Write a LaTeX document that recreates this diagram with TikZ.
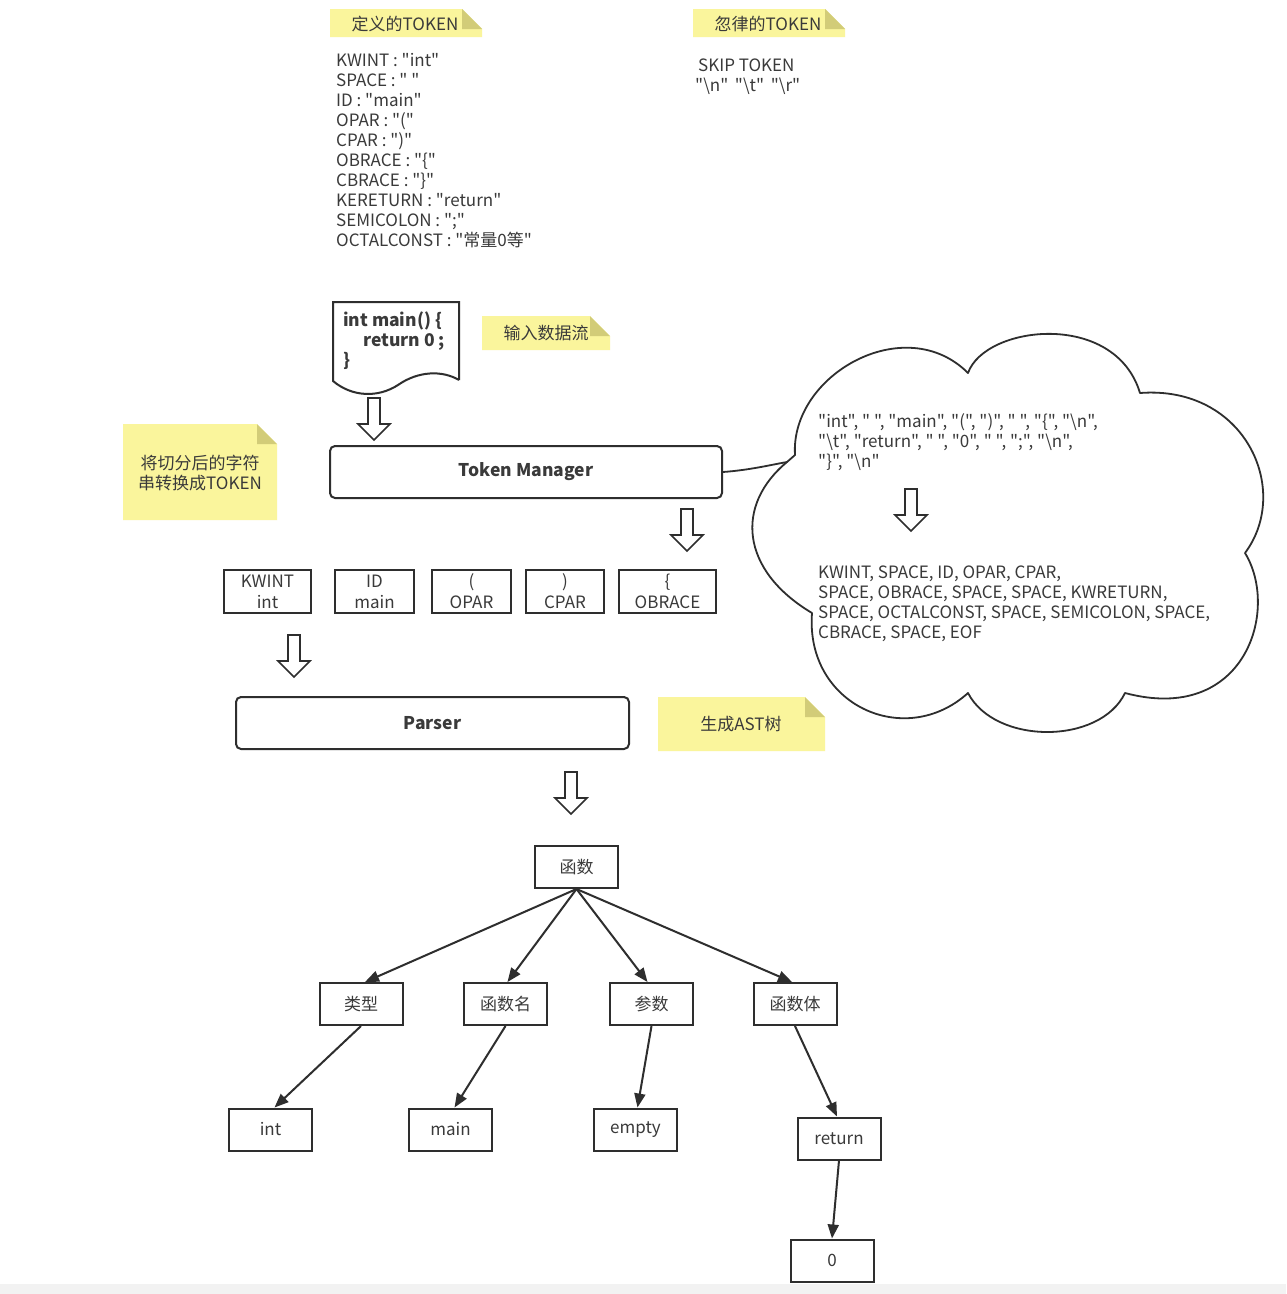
\documentclass[tikz,border=0pt]{standalone}
\usepackage{fontspec}
\setmainfont{Noto Sans CJK SC}[Ligatures=TeXOff]
\usetikzlibrary{arrows.meta}
\definecolor{ink}{HTML}{2E2E2E}
\definecolor{txt}{HTML}{3A3A3A}
\definecolor{noteY}{HTML}{FAF59C}
\definecolor{noteF}{HTML}{D2CC78}
\newcommand\stickynote[4]{%
  \fill[noteY] (#1,#2) -- (#3-20,#2) -- (#3,#2+20) -- (#3,#4) -- (#1,#4) -- cycle;
  \fill[noteF] (#3-20,#2) -- (#3-20,#2+20) -- (#3,#2+20) -- cycle;}
\tikzset{
  hollow/.pic={\draw[ink, line width=1.6pt, fill=white, line join=miter]
     (-6,0) -- (6,0) -- (6,26) -- (16,26) -- (0,42) -- (-16,26) -- (-6,26) -- cycle;},
  procbox/.style={draw=ink, line width=2pt, rounded corners=5pt, fill=white, inner sep=0pt,
     font=\fontsize{17.5}{20}\selectfont\bfseries},
  tokbox/.style={draw=ink, line width=2pt, minimum height=43pt, inner sep=0pt, align=center,
     font=\fontsize{17}{21}\selectfont},
  treebox/.style={draw=ink, line width=2pt, minimum width=83pt, minimum height=42pt, inner sep=0pt},
  treearrow/.style={ink, line width=2pt, -{Triangle[length=14pt,width=11pt]}},
  linetext/.style={anchor=base west, inner sep=0pt},
  doctext/.style={anchor=base west, inner sep=0pt, font=\fontsize{17.5}{20}\selectfont\bfseries},
  notetext/.style={inner sep=0pt, align=center},
}
\begin{document}
\begin{tikzpicture}[x=1pt, y=-1pt, font=\fontsize{17}{20}\selectfont, text=txt]
\useasboundingbox (0,0) rectangle (1286,1294);
\fill[white] (0,0) rectangle (1286,1294);
\fill[black!5] (0,1284) rectangle (1286,1294);

% ---- notes
\stickynote{330}{9}{482}{37}
\node[notetext] (n1) at (405,24) {定义的TOKEN};
\stickynote{693}{9}{845}{37}
\node[notetext] (n2) at (768,24) {忽律的TOKEN};
\stickynote{482}{316}{610}{350}
\node[notetext] (n3) at (546,333) {输入数据流};
\stickynote{123}{424}{277}{520}
\node[notetext] (n4) at (200,473) {将切分后的字符\\串转换成TOKEN};
\stickynote{658}{697}{825}{751}
\node[notetext] (n5) at (741,724) {生成AST树};

% ---- token definitions
\foreach \t [count=\i] in {
  {KWINT : "int"},
  {SPACE : " "},
  {ID : "main"},
  {OPAR : "("},
  {CPAR : ")"},
  {OBRACE : "\{"},
  {CBRACE : "\}"},
  {KERETURN : "return"},
  {SEMICOLON : ";"},
  {OCTALCONST : "常量0等"}}
  \node[linetext] (def\i) at (336,{66+20*(\i-1)}) {\t};

\node[linetext] (skip1) at (698,71) {SKIP TOKEN};
\node[linetext] (skip2) at (695,91) {"\textbackslash n"\, "\textbackslash t"\, "\textbackslash r"};

% ---- input document
\draw[ink, line width=2pt, fill=white] (459,380) -- (459,302) -- (333,302) -- (333,381)
  .. controls (352,397) and (378,398) .. (398,385)
  .. controls (418,371) and (442,370) .. (459,380);
\node[doctext] (doc1) at (343,326) {int main() \{};
\node[doctext] (doc2) at (363,346) {return 0 ;};
\node[doctext] (doc3) at (343,366) {\}};

\pic (a1) at (374,398) {hollow};

% ---- token manager
\node[procbox, minimum width=392pt, minimum height=52pt] (tm) at (526,472) {Token Manager};

% ---- cloud
\coordinate (tail) at (787,462);
\draw[ink, line width=1.8pt, fill=white, line join=round]
  (tail) -- (795,455)
  .. controls (790,375) and (905,310) .. (968,373)
  .. controls (985,325) and (1115,310) .. (1140,393)
  .. controls (1245,385) and (1292,490) .. (1245,553)
  .. controls (1280,610) and (1245,725) .. (1125,693)
  .. controls (1100,745) and (995,745) .. (968,693)
  .. controls (905,750) and (805,705) .. (812,613)
  .. controls (740,570) and (735,505) .. (tail) -- cycle;
\draw[ink, line width=1.8pt] (tm.east) .. controls (750,470) and (770,465) .. (tail);

\node[linetext] (c1) at (818,427) {"int", " ", "main", "(", ")", " ", "\{", "\textbackslash n",};
\node[linetext] (c2) at (818,447) {"\textbackslash t", "return", " ", "0", " ", ";", "\textbackslash n",};
\node[linetext] (c3) at (818,467) {"\}", "\textbackslash n"};
\pic (a2) at (911,489) {hollow};
\node[linetext] (k1) at (818,578) {KWINT, SPACE, ID, OPAR, CPAR,};
\node[linetext] (k2) at (818,598) {SPACE, OBRACE, SPACE, SPACE, KWRETURN,};
\node[linetext] (k3) at (818,618) {SPACE, OCTALCONST, SPACE, SEMICOLON, SPACE,};
\node[linetext] (k4) at (818,638) {CBRACE, SPACE, EOF};

% ---- token boxes
\pic (a3) at (687,509) {hollow};
\node[tokbox, minimum width=87pt] (t1) at (267.5,591.5) {KWINT\\int};
\node[tokbox, minimum width=79pt] (t2) at (374.5,591.5) {ID\\main};
\node[tokbox, minimum width=79pt] (t3) at (471.5,591.5) {(\\OPAR};
\node[tokbox, minimum width=78pt] (t4) at (565,591.5) {)\\CPAR};
\node[tokbox, minimum width=97pt] (t5) at (667.5,591.5) {\{\\OBRACE};

\pic (a4) at (294,635) {hollow};

% ---- parser
\node[procbox, minimum width=393pt, minimum height=52pt] (parser) at (432.5,723) {Parser};
\pic (a5) at (571,772) {hollow};

% ---- AST tree
\node[treebox] (fn) at (576.5,867) {函数};
\node[treebox] (ty) at (361,1004) {类型};
\node[treebox] (nm) at (505.5,1004) {函数名};
\node[treebox] (pa) at (651.5,1004) {参数};
\node[treebox] (bd) at (795,1004) {函数体};
\node[treebox] (vint) at (270.5,1129.5) {int};
\node[treebox] (vmain) at (450.5,1129.5) {main};
\node[treebox] (vempty) at (635.5,1129.5) {empty};
\node[treebox] (vret) at (839,1138.5) {return};
\node[treebox] (vzero) at (832,1260.5) {0};

\draw[treearrow] (fn.south) -- ([xshift=4pt]ty.north);
\draw[treearrow] (fn.south) -- ([xshift=2pt]nm.north);
\draw[treearrow] (fn.south) -- ([xshift=-4pt]pa.north);
\draw[treearrow] (fn.south) -- ([xshift=-3pt]bd.north);
\draw[treearrow] (ty.south) -- ([xshift=4pt]vint.north);
\draw[treearrow] (nm.south) -- ([xshift=4pt]vmain.north);
\draw[treearrow] (pa.south) -- ([xshift=2pt]vempty.north);
\draw[treearrow] (bd.south) -- ([xshift=-2pt]vret.north);
\draw[treearrow] (vret.south) -- (vzero.north);
\end{tikzpicture}
\end{document}
